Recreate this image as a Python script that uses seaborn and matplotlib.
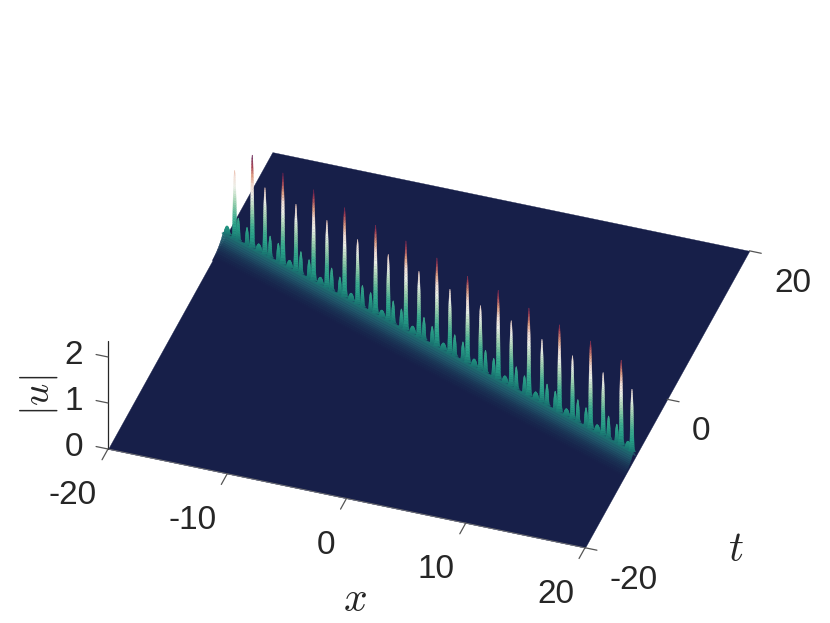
import numpy as np
import seaborn as sns
import matplotlib.pyplot as plt
from mpl_toolkits.mplot3d import proj3d

x_ticks = [-20, -10, 0, 10, 20]
t_ticks = [-20, 0, 20]
z_ticks = [0, 1, 2]

spike_x = [-18.87, -17.15, -15.91, -14.16, -12.89, -11.17, -9.87, -8.15, -6.88, -5.13, -3.89, -2.17, -0.90, 0.85,
	2.12, 3.84, 5.10, 6.83, 8.10, 9.82, 11.09, 12.80, 14.07, 15.83, 17.06, 18.82, 19.9]
spike_t = [7.54, 6.84, 6.33, 5.62, 5.11, 4.41, 3.88, 3.19, 2.67, 1.96, 1.46, 0.76, 0.24, -0.47,
	-0.98, -1.68, -2.19, -2.89, -3.41, -4.11, -4.62, -5.32, -5.83, -6.55, -7.05, -7.76, -8.28]
spike_u = [1.67, 2.21, 1.65, 2.18, 1.65, 2.17, 1.66, 2.14, 1.60, 2.12, 1.63, 2.13, 1.62, 2.12,
	1.59, 2.08, 1.59, 2.13, 1.62, 2.10, 1.57, 2.09, 1.57, 2.10, 1.56, 2.04, 1.55]

round_x = [-19.6, -16.51, -13.51, -10.51, -7.51, -4.51, -1.51, 1.49, 4.49, 7.49, 10.49, 13.49, 16.49, 19.49]
round_u = [0.38, 0.36, 0.36, 0.35, 0.36, 0.35, 0.36, 0.35, 0.36, 0.35, 0.36, 0.35, 0.36, 0.36]
narrow_x = [-18.51, -15.41, -12.41, -9.41, -6.41, -3.41, -0.41, 2.59, 5.59, 8.59, 11.59, 14.59, 17.59]
narrow_u = [0.68, 0.66, 0.68, 0.68, 0.66, 0.68, 0.68, 0.66, 0.68, 0.68, 0.66, 0.68, 0.68]
low_x = [-17.66, -14.61, -11.61, -8.61, -5.61, -2.61, 0.39, 3.39, 6.39, 9.39, 12.39, 15.39, 18.39]
low_u = [0.58, 0.60, 0.60, 0.58, 0.60, 0.60, 0.58, 0.60, 0.60, 0.58, 0.60, 0.60, 0.60]

ridge_ends_x = [-20, 20]
ridge_ends_t = [8.0, -8.24]
ridge_offset = [-2.6, -2.3, -2.1, -1.9, -1.7, -1.5, -1.35, -1.2, -1.05, -0.9, -0.75, -0.6, -0.45, -0.3, -0.15, 0.0, 0.6]
ridge_u = [0.0, 0.003, 0.007, 0.012, 0.018, 0.026, 0.033, 0.042, 0.052, 0.064, 0.078, 0.093, 0.11, 0.13, 0.16, 0.20, 0.0]

spike_level = [0, .03, .06, .1, .13, .16, .2, .23, .26, .3, .33, .36, .4, .43, .46, .5, .53, .56, .6, .63, .66,
	.7, .73, .76, .8, .83, .86, .9, .93, .96, 1]
spike_width = [.24, .19, .165, .15, .145, .14, .135, .13, .128, .125, .122, .12, .117, .114, .111, .108, .105, .102,
	.098, .094, .09, .085, .08, .075, .068, .062, .056, .048, .04, .03, .012]

colors = ["#171f49", "#215a6c", "#1a7a74", "#22907f", "#27a088", "#33a78c", "#3fae90", "#5eb999", "#7cc4a2",
	"#9ad0b1", "#b8dcc0", "#d2e6d4", "#ecefe8", "#f0e7df", "#f3dfd6", "#e8bcab", "#dd9a80", "#c06c69",
	"#a33f52", "#7f2c50", "#5c1a4e"]
u_max = 2.2

sns.set_theme(style="white")
plt.rcParams['font.family'] = ['Liberation Sans', 'DejaVu Sans']
plt.rcParams['mathtext.fontset'] = 'cm'
cmap = sns.blend_palette(colors, as_cmap=True).resampled(1024)
text_color = "#262626"
tick_color = "#555555"


def surf(ax, X, Y, Z, order):
	poly = ax.plot_surface(X, Y, Z, cmap=cmap, vmin=0, vmax=u_max, shade=False, rcount=200, ccount=200,
		linewidth=0.25, antialiased=True, zorder=order)
	poly.set_edgecolor('face')
	poly.set_clip_on(False)


def draw_spike(ax, x, t, u, order, scale=1.0):
	level = np.array(spike_level)
	half = np.array(spike_width) * scale
	crest = max(ridge_u)
	Z = crest + level * (u - crest)
	X = np.column_stack([x - half, x + half])
	Y = np.full(X.shape, t)
	surf(ax, X, Y, np.column_stack([Z, Z]), order)


def ridge_t(x):
	return np.interp(x, ridge_ends_x, ridge_ends_t)


fig = plt.figure(figsize=(8.3, 6.23), dpi=100)
ax = fig.add_axes([0.1, 0.1, 0.8, 0.8], projection='3d', computed_zorder=False, proj_type='ortho')
ax.view_init(elev=37.7, azim=-71.3)
ax.set_axis_off()

# flat sheet and the soliton ridge
gx, gt = np.meshgrid([-20, 20], [-20, 20])
surf(ax, gx, gt, np.zeros_like(gx, dtype=float), 1)

offs = np.array(ridge_offset)
RX = np.column_stack([np.full(offs.shape, ridge_ends_x[0]), np.full(offs.shape, ridge_ends_x[1])])
RT = np.column_stack([ridge_ends_t[0] + offs, ridge_ends_t[1] + offs])
RU = np.column_stack([ridge_u, ridge_u])
surf(ax, RX, RT, RU, 2)

for x, u in zip(round_x, round_u):
	draw_spike(ax, x, ridge_t(x), u, 3, scale=1.9)
for x, u in zip(narrow_x, narrow_u):
	draw_spike(ax, x, ridge_t(x), u, 3, scale=1.2)
for x, u in zip(low_x, low_u):
	draw_spike(ax, x, ridge_t(x), u, 3, scale=1.2)
for x, t, u in zip(spike_x, spike_t, spike_u):
	draw_spike(ax, x, t, u, 4, scale=1.25)

# axes, matlab style
ax.plot([-20, 20], [-20, -20], [0, 0], color="#777777", lw=0.6, zorder=5, clip_on=False)
ax.plot([-20, -20], [-20, -20], [0, 2.35], color=text_color, lw=0.9, zorder=5, clip_on=False)

for v in x_ticks:
	ax.plot([v, v], [-20, -21.45], [0, 0], color=tick_color, lw=0.9, zorder=5, clip_on=False)
for v in t_ticks:
	ax.plot([20, 21], [v, v], [0, 0], color=tick_color, lw=0.9, zorder=5, clip_on=False)
for v in z_ticks:
	ax.plot([-20, -21], [-20, -20], [v, v], color=tick_color, lw=0.9, zorder=5, clip_on=False)

fig.text(355 / 830, 1 - 600 / 623, r'$x$', fontsize=30, color=text_color, ha='center', va='center')
fig.text(736 / 830, 1 - 550 / 623, r'$t$', fontsize=30, color=text_color, ha='center', va='center')
fig.text(39 / 830, 1 - 395 / 623, r'$|u|$', fontsize=28, color=text_color, ha='center', va='center', rotation=90)

ax.set_xlim(-20, 20)
ax.set_ylim(-20, 20)
ax.set_zlim(0, 2.35)
ax.set_xticks([])
ax.set_yticks([])
ax.set_zticks([])


def corner(x, t, z):
	xs, ys, _ = proj3d.proj_transform(x, t, z, ax.get_proj())
	return ax.transData.transform((xs, ys))


def tick_label(x, t, z, text, ha):
	px, py = corner(x, t, z)
	fig.text(px / 830, py / 623, text, ha=ha, va='center', fontsize=24, color=text_color)


# fit the box on the page: scale first, then move the corner into place
ax.set_box_aspect((503, 512, 136.5), zoom=1.0)
ax.apply_aspect()
width = corner(20, -20, 0)[0] - corner(-20, -20, 0)[0]
ax.set_box_aspect((503, 512, 136.5), zoom=477 / width)
ax.apply_aspect()
here = corner(-20, -20, 0)
pos = ax.get_position(original=True)
ax.set_position([pos.x0 + (108 - here[0]) / 830, pos.y0 + (623 - 449 - here[1]) / 623, pos.width, pos.height])
ax.apply_aspect()

for v in x_ticks:
	tick_label(v + 1.12, -25.94, 0, str(v), 'right')
for v in t_ticks:
	tick_label(23.23, v - 3.3, 0, str(v), 'left')
for v in z_ticks:
	tick_label(-22.1, -20, v - 0.09, str(v), 'right')

fig.savefig("out.png", dpi=100)
